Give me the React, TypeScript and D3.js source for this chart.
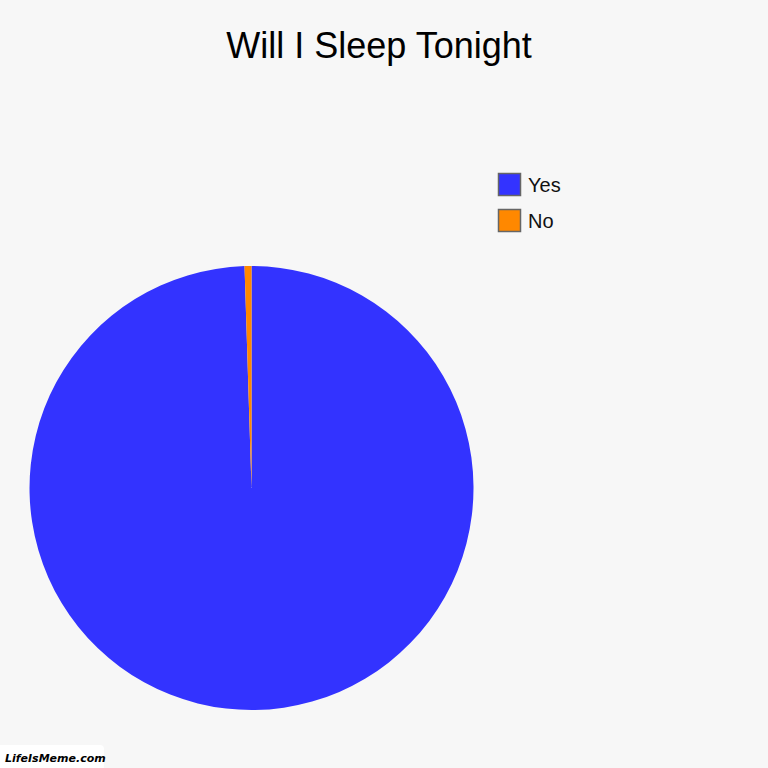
import React, { useEffect, useRef } from 'react';
import * as d3 from 'd3';

const categories = ['Yes', 'No'];
const values = [99.5, 0.5];
const colors = ['#3333ff', '#ff8800'];
const title = 'Will I Sleep Tonight';

const App: React.FC = () => {
	const ref = useRef<SVGSVGElement>(null);
	const width = 768;
	const height = 768;

	useEffect(() => {
		if (!ref.current) return;
		const svg = d3.select(ref.current);
		svg.selectAll('*').remove();

		svg.append('rect').attr('width', width).attr('height', height).attr('fill', '#f7f7f7');

		// title
		svg
			.append('text')
			.attr('x', 379)
			.attr('y', 58)
			.attr('text-anchor', 'middle')
			.style('font-family', '"Liberation Sans", Arial, sans-serif')
			.style('font-size', '36px')
			.attr('fill', '#000')
			.text(title);

		// pie
		const data = categories.map((c, i) => ({ name: c, value: values[i], color: colors[i] }));
		const pie = d3
			.pie<{ name: string; value: number; color: string }>()
			.value((d) => d.value)
			.sort(null);
		const arc = d3
			.arc<d3.PieArcDatum<{ name: string; value: number; color: string }>>()
			.innerRadius(0)
			.outerRadius(222);

		const g = svg.append('g').attr('transform', 'translate(251.5,488)');
		g.selectAll('path')
			.data(pie(data))
			.enter()
			.append('path')
			.attr('d', arc)
			.attr('fill', (d) => d.data.color);

		// legend
		const legend = svg.append('g').attr('transform', 'translate(498,173)');
		const items = legend
			.selectAll('g')
			.data(data)
			.enter()
			.append('g')
			.attr('transform', (_d, i) => `translate(0,${i * 36})`);
		items
			.append('rect')
			.attr('x', 0.5)
			.attr('y', 0.5)
			.attr('width', 22)
			.attr('height', 22)
			.attr('fill', (d) => d.color)
			.attr('stroke', '#666')
			.attr('stroke-width', 1.5);
		items
			.append('text')
			.attr('x', 30)
			.attr('y', 19)
			.style('font-family', '"Liberation Sans", Arial, sans-serif')
			.style('font-size', '20px')
			.attr('fill', '#111')
			.text((d) => d.name);

		// watermark
		svg
			.append('rect')
			.attr('x', -4)
			.attr('y', 745)
			.attr('width', 108)
			.attr('height', 28)
			.attr('rx', 4)
			.attr('fill', '#fff');
		svg
			.append('text')
			.attr('x', 5)
			.attr('y', 762)
			.style('font-family', '"DejaVu Sans", sans-serif')
			.style('font-size', '11px')
			.style('font-weight', 'bold')
			.style('font-style', 'italic')
			.attr('fill', '#000')
			.text('LifeIsMeme.com');
	}, []);

	return (
		<div style={{ position: 'fixed', left: 0, top: 0 }}>
			<svg ref={ref} width={width} height={height} style={{ display: 'block' }}></svg>
		</div>
	);
};

export default App;
